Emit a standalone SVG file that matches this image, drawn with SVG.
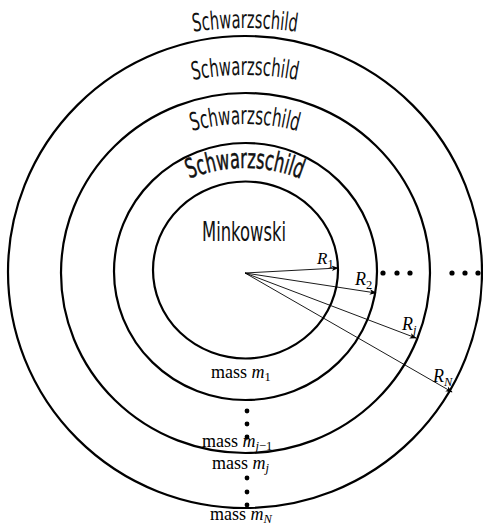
<svg xmlns="http://www.w3.org/2000/svg" width="483" height="527" viewBox="0 0 483 527">
<style>
.ring{fill:none;stroke:#000;stroke-width:2.2}
.sw{font-family:"DejaVu Sans Condensed","DejaVu Sans",sans-serif;font-stretch:condensed;fill:#111}
.mt{font-family:"Liberation Serif",serif;font-size:18px;fill:#000}
.it{font-style:italic}
.sub{font-size:12.5px}
.arr{stroke:#000;stroke-width:0.9;fill:none;marker-end:url(#ah)}
.dot{fill:#000}
</style>
<defs>
<marker id="ah" viewBox="0 0 10 10" refX="9" refY="5" markerWidth="7" markerHeight="7" markerUnits="userSpaceOnUse" orient="auto">
<path d="M0,1 L10,5 L0,9 L2.5,5 Z" fill="#000"/>
</marker>
<path id="p1" d="M125,49.2 A350,350 0 0 1 365,49.2"/>
<path id="p2" d="M125,103.1 A270,270 0 0 1 365,103.1"/>
<path id="p3" d="M125,164 A200,200 0 0 1 365,164"/>
<path id="p4" d="M135,216 A150,150 0 0 1 355,216"/>
</defs>
<g id="rings">
<ellipse id="ring-N" class="ring" cx="245" cy="272" rx="237" ry="236"/>
<ellipse id="ring-j" class="ring" cx="245.5" cy="273" rx="184.5" ry="180"/>
<ellipse id="ring-2" class="ring" cx="245.5" cy="271.5" rx="131.5" ry="128.5"/>
<ellipse id="ring-1" class="ring" cx="245.5" cy="270" rx="92.5" ry="88.5"/>
</g>
<g id="labels-region">
<text class="sw" font-size="25" text-anchor="middle" textLength="104" lengthAdjust="spacingAndGlyphs"><textPath href="#p1" startOffset="50%">Schwarzschild</textPath></text>
<text class="sw" font-size="25" text-anchor="middle" textLength="105" lengthAdjust="spacingAndGlyphs"><textPath href="#p2" startOffset="50%">Schwarzschild</textPath></text>
<text class="sw" font-size="25" text-anchor="middle" textLength="107" lengthAdjust="spacingAndGlyphs"><textPath href="#p3" startOffset="50%">Schwarzschild</textPath></text>
<text class="sw" font-size="27" stroke="#111" stroke-width="0.5" text-anchor="middle" textLength="114" lengthAdjust="spacingAndGlyphs"><textPath href="#p4" startOffset="50%">Schwarzschild</textPath></text>
<text class="sw" font-size="27" x="244" y="241" text-anchor="middle" textLength="84" lengthAdjust="spacingAndGlyphs">Minkowski</text>
</g>
<g id="connectors">
<line class="arr" x1="245" y1="273" x2="338" y2="268"/>
<line class="arr" x1="245" y1="273" x2="376" y2="293"/>
<line class="arr" x1="245" y1="273" x2="416" y2="338"/>
<line class="arr" x1="245" y1="273" x2="452" y2="392"/>
</g>
<g id="radius-labels" class="mt">
<text x="317" y="264" font-size="17"><tspan class="it">R</tspan><tspan class="sub" dy="4">1</tspan></text>
<text x="355" y="285" font-size="18"><tspan class="it">R</tspan><tspan class="sub" dy="4">2</tspan></text>
<text x="402" y="330" font-size="18"><tspan class="it">R</tspan><tspan class="sub it" dy="4">j</tspan></text>
<text x="433" y="382" font-size="18"><tspan class="it">R</tspan><tspan class="sub it" dy="4">N</tspan></text>
</g>
<g id="mass-labels" class="mt">
<text x="211" y="378">mass <tspan class="it">m</tspan><tspan class="sub" dy="3">1</tspan></text>
<text x="202" y="447">mass <tspan class="it">m</tspan><tspan class="sub" dy="2.5"><tspan class="it">j</tspan>−1</tspan></text>
<text x="212" y="469">mass <tspan class="it">m</tspan><tspan class="sub it" dy="3">j</tspan></text>
<text x="210" y="520">mass <tspan class="it">m</tspan><tspan class="sub it" dy="3">N</tspan></text>
</g>
<g id="dots">
<circle class="dot" cx="247" cy="411" r="2.4"/>
<circle class="dot" cx="247" cy="424" r="2.4"/>
<circle class="dot" cx="247" cy="437" r="2.4"/>
<circle class="dot" cx="247" cy="478" r="2.4"/>
<circle class="dot" cx="247" cy="492" r="2.4"/>
<circle class="dot" cx="247" cy="505" r="2.4"/>
<circle class="dot" cx="383" cy="273" r="2.6"/>
<circle class="dot" cx="397" cy="273" r="2.6"/>
<circle class="dot" cx="410" cy="273" r="2.6"/>
<circle class="dot" cx="452" cy="273" r="2.6"/>
<circle class="dot" cx="465" cy="273" r="2.6"/>
<circle class="dot" cx="478" cy="273" r="2.6"/>
</g>
</svg>
